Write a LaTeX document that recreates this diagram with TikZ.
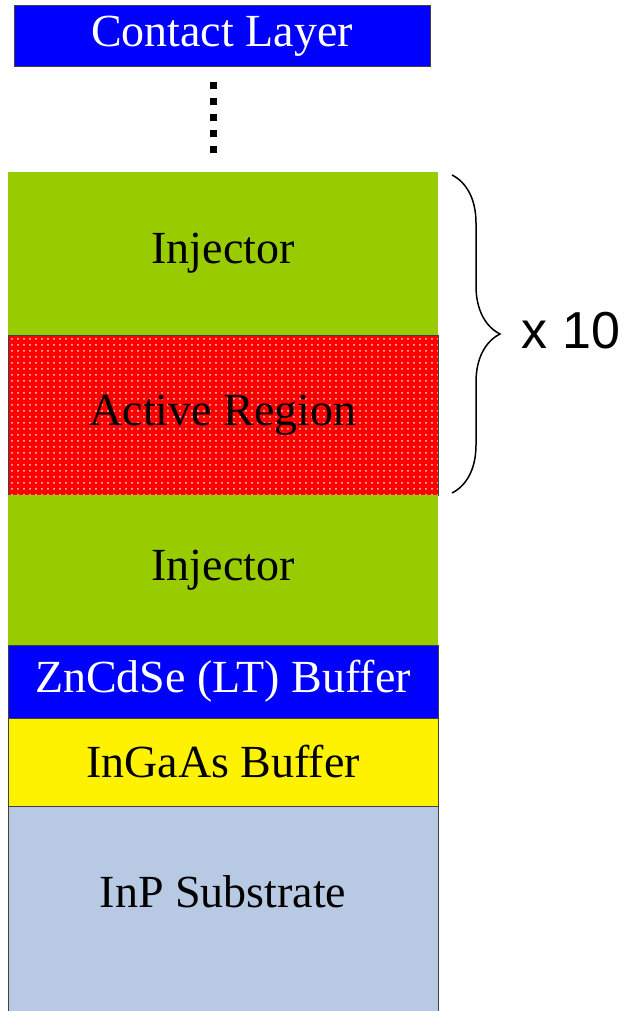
\documentclass[tikz,border=0pt]{standalone}
\usepackage{fontspec}
\setmainfont{Liberation Serif}
\newfontfamily\arialfont{Liberation Sans}
\usetikzlibrary{patterns,decorations.pathreplacing}
\definecolor{injgreen}{HTML}{99CC00}
\definecolor{subblue}{HTML}{B8C9E3}

\begin{document}
\begin{tikzpicture}[x=0.5pt, y=-0.5pt, every node/.style={inner sep=0pt, font=\fontsize{23}{27}\selectfont},
  layer/.style={minimum width=215pt, draw=black!75, line width=0.5pt}]
\useasboundingbox (0,0) rectangle (626,1011);
\node (contact) [layer, minimum width=208pt, minimum height=30.5pt, fill=blue, text=white] at (222,36.5) {Contact Layer};
\coordinate (dotstop) at (213,82); \coordinate (dotsbot) at (213,155);
\draw[line width=3.5pt, dash pattern=on 3.5pt off 4.5pt] (dotstop) -- (dotsbot);
% layer stack, top to bottom
\node (inj1) [layer, draw=none, fill=injgreen, minimum height=81.5pt] at (223,253.5) {Injector};
\node (active) [layer, preaction={fill=red}, pattern=dots, pattern color=white!85!red, minimum height=80pt] at (223,415) {Active Region};
\node (inj2) [layer, draw=none, fill=injgreen, minimum height=75pt] at (223,570) {Injector};
\node (znbuf) [layer, fill=blue, text=white, minimum height=36.5pt] at (223,681.5) {ZnCdSe (LT) Buffer};
\node (gabuf) [layer, fill=yellow, minimum height=44pt] at (223,762) {InGaAs Buffer};
\node (sub) [layer, fill=subblue, minimum height=106pt, anchor=north] at (223,806) {};
\node (subtxt) at (223,892) {InP Substrate};
% period brace
\coordinate (bracetop) at (452,175); \coordinate (bracebot) at (452,493);
\draw[decorate, decoration={brace, amplitude=24pt}, line width=0.75pt] (bracetop) -- (bracebot);
\node (reps) [font=\arialfont\fontsize{26}{30}\selectfont] at (571,331) {x 10};
\end{tikzpicture}
\end{document}
